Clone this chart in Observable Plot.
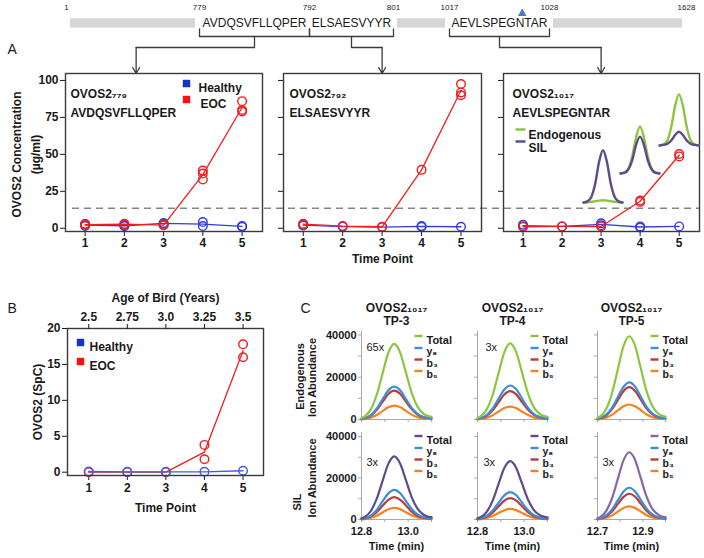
<!DOCTYPE html>
<html><head><meta charset="utf-8">
<script src="https://cdn.jsdelivr.net/npm/d3@7"></script>
<script src="https://cdn.jsdelivr.net/npm/@observablehq/plot@0.6"></script>
<style>
body{margin:0;background:#fff;}
#fig{position:relative;width:704px;height:558px;overflow:hidden;background:#fff;}
.cp text{fill:#1a1a1a;}
</style></head><body><div id="fig"></div><script>
// ---------------- data ----------------
const residueTicks = [1, 779, 792, 801, 1017, 1028, 1628];
const peptideSeqs = ["AVDQSVFLLQPER", "ELSAESVYYR", "AEVLSPEGNTAR"];
const peptideStarts = [779, 792, 1017];
const peptideEnds = [792, 801, 1028];
const peptideSites = ["\u2087\u2087\u2089", "\u2087\u2089\u2082", "\u2081\u2080\u2081\u2087"];
const glycosite = [1025];
const grayStarts = [1, 801, 1028];
const grayEnds = [779, 1017, 1628];

const timePoints = [1, 2, 3, 4, 5];
const concTicks = [0, 25, 50, 75, 100];
const lodThreshold = 13.5;

// [time point, OVOS2 µg/ml]
const healthy779 = [[1,2.8],[1,1.5],[2,1.4],[2,2],[3,3.6],[3,3],[4,4.2],[4,1.5],[5,1.5],[5,1]];
const eoc779 = [[1,2.8],[1,2.2],[2,3],[2,2.6],[3,2.2],[3,2],[4,39],[4,37],[4,33],[5,86],[5,80],[5,79]];
const healthy792 = [[1,2.3],[1,1.8],[2,1.1],[3,0.8],[4,1.5],[4,1],[5,1]];
const eoc792 = [[1,3],[1,2.5],[2,1.5],[3,1],[4,39.5],[5,97.6],[5,91.9],[5,90]];
const healthy1017 = [[1,2.3],[1,1.2],[2,1.2],[3,3.3],[3,2],[4,0.5],[4,1.2],[5,1.2]];
const eoc1017 = [[1,1],[2,1.2],[3,1.2],[4,17.8],[4,18.7],[5,50.2],[5,48.6]];

// inset peaks (relative abundance)
const insetTime = [0,1,2,3,4,5,6,7,8,9,10];
const insetEndoTP3 = [0,0.5,1.2,2.5,3.5,4,3.5,2.5,1.2,0.5,0];
const insetSilTP3 = [0,2,10,34,74,95,74,34,10,2,0];
const insetEndoTP4 = [0,2,9,31,66,85,66,31,9,2,0];
const insetSilTP4 = [0,1,7,24,52,67,52,24,7,1,0];
const insetEndoTP5 = [0,2,9,33,72,93,72,33,9,2,0];
const insetSilTP5 = [0,1,3,9,19,25,19,9,3,1,0];

// panel B
const spcTicks = [0, 5, 10, 15, 20];
const ageTicks = [2.5, 2.75, 3.0, 3.25, 3.5];
const ageLabels = ["2.5", "2.75", "3.0", "3.25", "3.5"];
const healthySpC = [[1,0.1],[2,0.05],[3,0.05],[4,0.05],[5,0.2]];
const eocSpC = [[1,0],[2,0],[3,0],[4,3.8],[4,1.8],[5,17.8],[5,16.0]];

// panel C chromatograms (ion abundance)
const timesTP34 = [12.80,12.815,12.84,12.865,12.89,12.915,12.94,12.965,12.99,13.015,13.04,13.065,13.09,13.10];
const timesTP5 = [12.70,12.715,12.74,12.765,12.79,12.815,12.84,12.865,12.89,12.915,12.94,12.965,12.99,13.00];
const endoTP3 = {
  total: [700,1600,4800,11600,21700,31600,35800,31900,22400,12700,6100,2800,1500,1300],
  y8: [300,700,2100,5100,9500,13800,15600,13900,9800,5500,2700,1200,600,600],
  b3: [300,600,1800,4500,8300,12100,13700,12200,8600,4900,2300,1100,600,500],
  b5: [100,300,900,2100,4000,5800,6600,5900,4100,2300,1100,500,300,200]
};
const endoTP4 = {
  total: [700,1600,4900,11700,21900,31800,36000,32100,22600,12800,6100,2800,1500,1300],
  y8: [300,700,2200,5200,9800,14200,16100,14400,10100,5700,2700,1300,700,600],
  b3: [300,600,1800,4400,8100,11800,13400,12000,8400,4800,2300,1100,500,500],
  b5: [100,300,800,2000,3700,5400,6100,5400,3800,2200,1000,500,300,200]
};
const endoTP5 = {
  total: [800,1700,5300,12800,23900,34800,39400,35100,24700,14000,6700,3100,1600,1400],
  y8: [400,800,2400,5700,10700,15500,17600,15700,11000,6200,3000,1400,700,600],
  b3: [300,700,2100,5000,9300,13500,15300,13600,9600,5400,2600,1200,600,600],
  b5: [100,300,1000,2300,4300,6300,7100,6300,4500,2500,1200,600,300,300]
};
const silTP3 = {
  total: [600,1300,4100,9900,18500,26800,30400,27100,19100,10800,5200,2400,1200,1100],
  y8: [300,600,1900,4600,8700,12600,14300,12800,9000,5100,2400,1100,600,500],
  b3: [200,500,1500,3500,6600,9500,10800,9600,6800,3800,1800,900,400,400],
  b5: [100,200,800,1800,3400,4900,5600,5000,3500,2000,1000,400,200,200]
};
const silTP4 = {
  total: [600,1200,3800,9100,17100,24800,28100,25100,17600,10000,4800,2200,1200,1000],
  y8: [300,600,1800,4300,8000,11600,13200,11800,8300,4700,2200,1000,500,500],
  b3: [200,500,1400,3300,6300,9100,10300,9200,6500,3700,1800,800,400,400],
  b5: [100,200,700,1700,3100,4500,5100,4500,3200,1800,900,400,200,200]
};
const silTP5 = {
  total: [600,1400,4400,10500,19700,28600,32400,28900,20300,11500,5500,2600,1300,1200],
  y8: [300,700,2100,5000,9300,13500,15300,13600,9600,5400,2600,1200,600,600],
  b3: [200,500,1700,4000,7500,10900,12400,11100,7800,4400,2100,1000,500,400],
  b5: [100,300,900,2000,3800,5600,6300,5600,4000,2200,1100,500,300,200]
};
const abundanceTicks = [0, 10000, 20000, 30000, 40000];
const foldLabels = [["65x", "3x", ""], ["3x", "3x", "3x"]];
const tpTitles = ["TP-3", "TP-4", "TP-5"];

// ---------------- layout & style ----------------
const W = 704, H = 558;
const FONT = '"Liberation Sans", Arial, Helvetica, sans-serif';
const BLUE = "#2f3fdc", RED = "#f01e1e", LEG_BLUE = "#1433c8", LEG_RED = "#ff1010";
const GREEN = "#8cc63f", PURPLE = "#5e4b8b", PURPLE2 = "#8568a8";
const Y8C = "#3d8ed6", B3C = "#b83c3c", B5C = "#f5821f";
const fig = document.getElementById("fig");

function place(options, cls) {
  const {style = {}, ...rest} = options;
  const svg = Plot.plot({
    width: W, height: H, ...rest,
    style: Object.assign({background: "transparent", overflow: "visible", fontFamily: FONT,
      fontSize: "12px", fontWeight: "bold", color: "#1a1a1a", maxWidth: "none"}, style)
  });
  svg.style.position = "absolute"; svg.style.left = "0px"; svg.style.top = "0px";
  if (cls) svg.classList.add(cls);
  fig.appendChild(svg);
  return svg;
}
const dashSymbol = (half) => ({draw(ctx) { ctx.moveTo(-half, 0); ctx.lineTo(half, 0); }});
const px = d => d[0], py = d => d[1];
const label = (s, o) => Plot.text([s], {text: d => d, ...o});
const vlabel = (s, o) => Plot.text([s], {text: d => d, frameAnchor: "left", rotate: -90, textAnchor: "middle", ...o});

// ---------------- panel A geometry ----------------
const tpDomainA = [0.5, 5.52];
const concDomain = [-2.2, 104.7];
const A_TOP = 73, A_BOTTOM = 231;
const panelFrames = [[65, 262], [283, 481], [503, 699]];
const arrowTP = [2.3, 3, 3];

// ---------------- top schematic ----------------
const resPx = [66, 199, 309, 393, 449, 549, 686];
const tierPx = [7, 23, 36, 47, 73];
const resScale = d3.scaleLinear(residueTicks, resPx);
const arrowRes = arrowTP.map((tp, i) => resScale.invert(d3.scaleLinear(tpDomainA, panelFrames[i])(tp)));
const bracketPts = peptideSeqs.flatMap((s, i) => [
  [peptideStarts[i], 1.42, i], [peptideStarts[i], 2, i], [peptideEnds[i], 2, i], [peptideEnds[i], 1.42, i]]);
const connectorPts = peptideSeqs.flatMap((s, i) => {
  const mid = (peptideStarts[i] + peptideEnds[i]) / 2;
  return [[mid, 2, i], [mid, 3, i], [arrowRes[i], 3, i]];
});
place({
  margin: 0,
  x: {type: "linear", domain: residueTicks, range: resPx, axis: null},
  y: {type: "linear", domain: [0, 1, 2, 3, 4], range: tierPx, axis: null},
  style: {fontWeight: "normal"},
  marks: [
    Plot.rect(grayStarts, {x1: d => d, x2: (d, i) => grayEnds[i], y1: 0.7, y2: 1.36, fill: "#d6d6d6", insetLeft: 4, insetRight: 4}),
    Plot.text(residueTicks, {x: d => d, y: 0, text: d => String(d), fontSize: 8}),
    Plot.dot(glycosite, {x: d => d, y: 0, dy: 6, symbol: "triangle", r: 3.2, fill: "#4a7ebb"}),
    Plot.text(peptideSeqs, {x: (d, i) => (peptideStarts[i] + peptideEnds[i]) / 2, y: 1, text: d => d, fontSize: 12}),
    Plot.line(bracketPts, {x: px, y: py, z: d => d[2], stroke: "#3c3c3c", strokeWidth: 1.3}),
    Plot.line(connectorPts, {x: px, y: py, z: d => d[2], stroke: "#3c3c3c", strokeWidth: 1.3}),
    Plot.arrow(arrowRes, {x1: d => d, x2: d => d, y1: 3, y2: 4, stroke: "#3c3c3c", strokeWidth: 1.3, headLength: 8, headAngle: 60}),
    label("A", {frameAnchor: "top-left", dx: 7, dy: 44, fontSize: 14})
  ]
});

// ---------------- panel A ----------------
place({
  marginLeft: 72, marginRight: 4, marginTop: A_TOP, marginBottom: H - A_BOTTOM,
  x: {axis: null}, y: {domain: concDomain, axis: null},
  marks: [Plot.ruleY([lodThreshold], {stroke: "#858585", strokeWidth: 1.6, strokeDasharray: "7,5"})]
});
const aHealthy = [healthy779, healthy792, healthy1017];
const aEoc = [eoc779, eoc792, eoc1017];
const titleDx = [5, 6, 9];
panelFrames.forEach(([l, r], i) => {
  const marks = [
    Plot.line(aHealthy[i], Plot.groupX({y: "mean"}, {x: px, y: py, stroke: BLUE, strokeWidth: 1.3})),
    Plot.dot(aHealthy[i], {x: px, y: py, r: 4.3, stroke: BLUE, strokeWidth: 1.4}),
    Plot.line(aEoc[i], Plot.groupX({y: "mean"}, {x: px, y: py, stroke: RED, strokeWidth: 1.3})),
    Plot.dot(aEoc[i], {x: px, y: py, r: 4.3, stroke: RED, strokeWidth: 1.4}),
    Plot.frame({stroke: "#3a3a3a", strokeWidth: 1.4}),
    label("OVOS2" + peptideSites[i], {frameAnchor: "top-left", dx: titleDx[i], dy: 16, textAnchor: "start"}),
    label(peptideSeqs[i], {frameAnchor: "top-left", dx: titleDx[i], dy: 35, textAnchor: "start"})
  ];
  if (i === 0) {
    marks.push(
      Plot.dot([0], {frameAnchor: "top-right", dx: -76, dy: 10, symbol: "square", r: 4.2, fill: LEG_BLUE}),
      label("Healthy", {frameAnchor: "top-right", dx: -64, dy: 10, textAnchor: "start"}),
      Plot.dot([0], {frameAnchor: "top-right", dx: -76, dy: 26, symbol: "square", r: 4.2, fill: LEG_RED}),
      label("EOC", {frameAnchor: "top-right", dx: -62, dy: 26, textAnchor: "start"}),
      vlabel("OVOS2 Concentration", {dx: -48, dy: 2}),
      vlabel("(\u00b5g/ml)", {dx: -29, dy: 2})
    );
  }
  if (i === 1) marks.push(label("Time Point", {frameAnchor: "bottom", dy: 31}));
  if (i === 2) {
    marks.push(
      Plot.dot([0], {frameAnchor: "top-left", dx: 17, dy: 56, symbol: dashSymbol(5), stroke: GREEN, strokeWidth: 2.5}),
      label("Endogenous", {frameAnchor: "top-left", dx: 25, dy: 57, textAnchor: "start"}),
      Plot.dot([0], {frameAnchor: "top-left", dx: 17, dy: 68, symbol: dashSymbol(5), stroke: PURPLE, strokeWidth: 2.5}),
      label("SIL", {frameAnchor: "top-left", dx: 25, dy: 70, textAnchor: "start"})
    );
  }
  place({
    marginLeft: l, marginRight: W - r, marginTop: A_TOP, marginBottom: H - A_BOTTOM,
    x: {domain: tpDomainA, ticks: timePoints, tickFormat: d3.format("d"), tickSize: 5, tickPadding: 2, label: null},
    y: {domain: concDomain, ticks: concTicks, tickSize: 5, tickPadding: 2,
        tickFormat: i === 0 ? d3.format("d") : () => "", label: null},
    marks
  });
});

// inset peaks in panel A3
const insetBoxes = [[583, 622, 202], [620, 659, 173], [659, 698, 145]];
const insetEndo = [insetEndoTP3, insetEndoTP4, insetEndoTP5];
const insetSil = [insetSilTP3, insetSilTP4, insetSilTP5];
insetBoxes.forEach(([l, r, base], i) => {
  place({
    marginLeft: l, marginRight: W - r, marginTop: base - 55, marginBottom: H - base,
    x: {domain: [0, 10], axis: null}, y: {domain: [0, 100], axis: null},
    marks: [
      Plot.line(insetTime, {x: d => d, y: (d, j) => insetEndo[i][j], stroke: GREEN, strokeWidth: 2.4, curve: "monotone-x"}),
      Plot.line(insetTime, {x: d => d, y: (d, j) => insetSil[i][j], stroke: PURPLE, strokeWidth: 2.4, curve: "monotone-x"})
    ]
  });
});

// ---------------- panel B ----------------
const B_L = 67, B_R = 263, B_T = 328, B_B = 475;
const tpDomainB = [0.45, 5.53];
const spcDomain = [-0.46, 20];
const ageDomain = tpDomainB.map(d3.scaleLinear([timePoints[0], timePoints[4]], [ageTicks[0], ageTicks[4]]));
place({
  marginLeft: B_L, marginRight: W - B_R, marginTop: B_T, marginBottom: H - B_B,
  x: {domain: tpDomainB, ticks: timePoints, tickFormat: d3.format("d"), tickSize: 5, tickPadding: 3, label: null},
  y: {domain: spcDomain, ticks: spcTicks, tickSize: 5, tickPadding: 2, label: null},
  marks: [
    Plot.line(eocSpC, Plot.groupX({y: "mean"}, {x: px, y: py, stroke: RED, strokeWidth: 1.3})),
    Plot.dot(eocSpC, {x: px, y: py, r: 4.3, stroke: RED, strokeWidth: 1.4}),
    Plot.line(healthySpC, Plot.groupX({y: "mean"}, {x: px, y: py, stroke: "#3b5fe6", strokeWidth: 1.3})),
    Plot.dot(healthySpC, {x: px, y: py, r: 4.3, stroke: "#3b5fe6", strokeWidth: 1.4}),
    Plot.frame({stroke: "#3a3a3a", strokeWidth: 1.4}),
    Plot.dot([0], {frameAnchor: "top-left", dx: 13, dy: 14, symbol: "square", r: 4.2, fill: LEG_BLUE}),
    label("Healthy", {frameAnchor: "top-left", dx: 22, dy: 14, textAnchor: "start"}),
    Plot.dot([0], {frameAnchor: "top-left", dx: 13, dy: 33, symbol: "square", r: 4.2, fill: LEG_RED}),
    label("EOC", {frameAnchor: "top-left", dx: 22, dy: 33, textAnchor: "start"}),
    vlabel("OVOS2 (SpC)", {dx: -29}),
    label("Time Point", {frameAnchor: "bottom", dy: 36}),
    label("B", {frameAnchor: "top-left", dx: -60, dy: -25, fontSize: 14, fontWeight: "normal"})
  ]
});
place({
  marginLeft: B_L, marginRight: W - B_R, marginTop: B_T, marginBottom: H - B_B,
  x: {domain: ageDomain, axis: "top", ticks: ageTicks, tickFormat: d => ageLabels[ageTicks.indexOf(d)],
      tickSize: 5, tickPadding: 3, label: null},
  marks: [label("Age of Bird (Years)", {frameAnchor: "top", dy: -35})]
});

// ---------------- panel C ----------------
const cCols = [
  {left: 361, right: 431, domain: [12.8, 13.1], ticks: [12.8, 12.9, 13.0, 13.1], times: timesTP34},
  {left: 477, right: 547, domain: [12.8, 13.1], ticks: [12.8, 12.9, 13.0, 13.1], times: timesTP34},
  {left: 597, right: 665, domain: [12.7, 13.0], ticks: [12.7, 12.8, 12.9, 13.0], times: timesTP5}
];
const cRows = [
  {top: 331, bottom: 419, ymax: 41650, legDy: [4.5, 16.5, 28, 39.5], foldDy: 12},
  {top: 432, bottom: 519, ymax: 41930, legDy: [3.5, 15.5, 27, 38.5], foldDy: 26}
];
const cTraces = [[endoTP3, endoTP4, endoTP5], [silTP3, silTP4, silTP5]];
const totalColors = [[GREEN, GREEN, GREEN], [PURPLE, PURPLE, PURPLE2]];
const foldDx = [[5, 8, 0], [5, 6, 5]];

cRows.forEach((row, ri) => {
  cCols.forEach((col, ci) => {
    const tr = cTraces[ri][ci];
    const series = [["b5", B5C], ["b3", B3C], ["y8", Y8C], ["total", totalColors[ri][ci]]];
    const marks = series.map(([k, color]) =>
      Plot.line(col.times, {x: d => d, y: (d, j) => tr[k][j], stroke: color, strokeWidth: 2.2, curve: "monotone-x"}));
    const legend = [["Total", totalColors[ri][ci]], ["y\u2088", Y8C], ["b\u2083", B3C], ["b\u2085", B5C]];
    legend.forEach(([name, color], j) => {
      marks.push(
        Plot.dot([0], {frameAnchor: "top-left", dx: 57, dy: row.legDy[j], symbol: dashSymbol(4), stroke: color, strokeWidth: 2.4}),
        label(name, {frameAnchor: "top-left", dx: 65, dy: row.legDy[j], textAnchor: "start", fontSize: j === 0 ? 11 : 10.5})
      );
    });
    if (foldLabels[ri][ci]) marks.push(label(foldLabels[ri][ci], {frameAnchor: "top-left", dx: foldDx[ri][ci], dy: row.foldDy, textAnchor: "start", fontWeight: "normal", fontSize: 11}));
    if (ri === 0) {
      marks.push(
        label("OVOS2\u2081\u2080\u2081\u2087", {frameAnchor: "top", dy: -28, fontSize: 12}),
        label(tpTitles[ci], {frameAnchor: "top", dy: -15, fontSize: 12})
      );
    }
    if (ri === 1) marks.push(label("Time (min)", {frameAnchor: "bottom", dy: 30}));
    if (ci === 0) {
      if (ri === 0) {
        marks.push(
          vlabel("Endogenous", {dx: -61, dy: 1}),
          vlabel("Ion Abundance", {dx: -49, dy: 2}),
          label("C", {frameAnchor: "top-left", dx: -61, dy: -28, fontSize: 14, fontWeight: "normal"})
        );
      } else {
        marks.push(
          vlabel("SIL", {dx: -64, dy: 26}),
          vlabel("Ion Abundance", {dx: -49, dy: 2})
        );
      }
    }
    place({
      marginLeft: col.left, marginRight: W - col.right, marginTop: row.top, marginBottom: H - row.bottom,
      x: {domain: col.domain, ticks: col.ticks, tickSize: 3, tickPadding: 5, line: true, label: null,
          tickFormat: ri === 1 ? (d => (col.ticks.indexOf(d) % 2 ? "" : d.toFixed(1))) : () => ""},
      y: {domain: [0, row.ymax], ticks: abundanceTicks, tickSize: 3, tickPadding: 2, line: true, label: null,
          tickFormat: ci === 0 ? (d => (d % 20000 === 0 ? String(d) : "")) : () => ""},
      style: {fontSize: "11px", color: "#a8a8a8"},
      marks
    }, "cp");
  });
});
</script></body></html>
